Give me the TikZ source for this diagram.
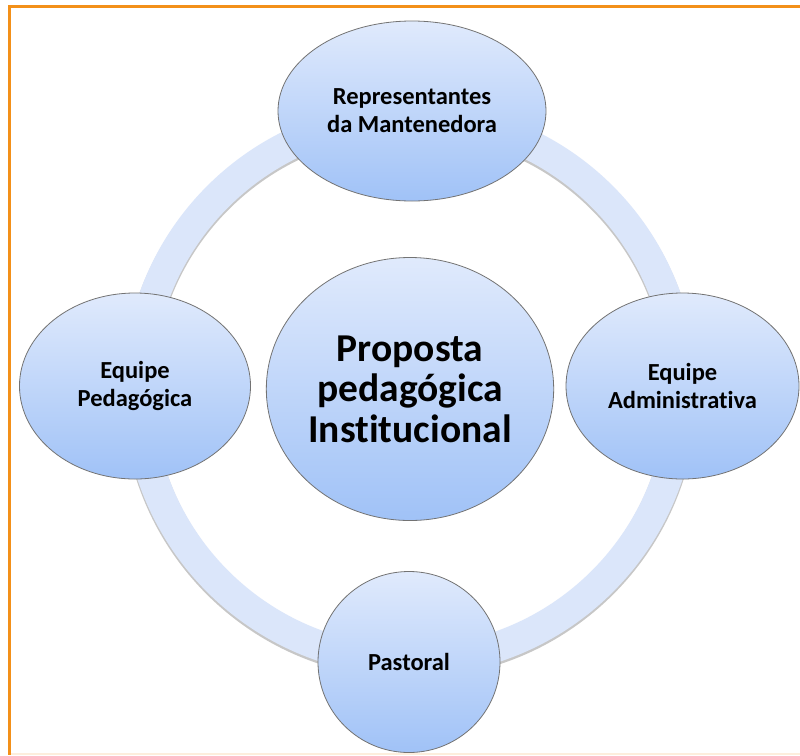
\documentclass[tikz,border=0pt]{standalone}
\usepackage{fontspec}
\setmainfont{Carlito}[Ligatures=NoCommon]
\usetikzlibrary{shapes.geometric}
\definecolor{ringblue}{RGB}{219,230,250}
\definecolor{topblue}{RGB}{224,234,252}
\definecolor{botblue}{RGB}{160,194,247}
\definecolor{frameorange}{RGB}{243,144,25}
\begin{document}
\begin{tikzpicture}[x=1pt,y=-1pt,
  bubble/.style={ellipse, draw=black!55, line width=0.8pt, top color=topblue, bottom color=botblue, inner sep=0pt, align=center, font=\fontsize{24.5}{28}\selectfont\bfseries},
]
\useasboundingbox (0,0) rectangle (800,755);
\fill[white] (0,0) rectangle (800,755);
% frame
\draw[frameorange, line width=3pt] (805,6.5) -- (9.5,6.5) -- (9.5,755);
\draw[frameorange!15, line width=2pt] (11,754) -- (805,754);
% ring
\coordinate (c) at (410,389);
\draw[black!22, line width=31pt] ([yshift=-2pt]c) circle (272);
\draw[ringblue, line width=30pt] (c) circle (272);
% nodes
\node[bubble, minimum width=268pt, minimum height=180pt] (top) at (412,111) {Representantes\\da Mantenedora};
\node[bubble, minimum width=231pt, minimum height=186pt] (left) at (135,386) {Equipe\\Pedagógica};
\node[bubble, minimum width=233pt, minimum height=186pt] (right) at (682.5,386) {Equipe\\Administrativa};
\node[bubble, minimum width=182pt, minimum height=181pt] (bottom) at (409,662) {Pastoral};
\node[bubble, minimum width=262pt, minimum height=263pt, font=\fontsize{39.5}{40.5}\selectfont\bfseries] (center) at (410,389) {Proposta\\pedagógica\\Institucional};
\end{tikzpicture}
\end{document}
